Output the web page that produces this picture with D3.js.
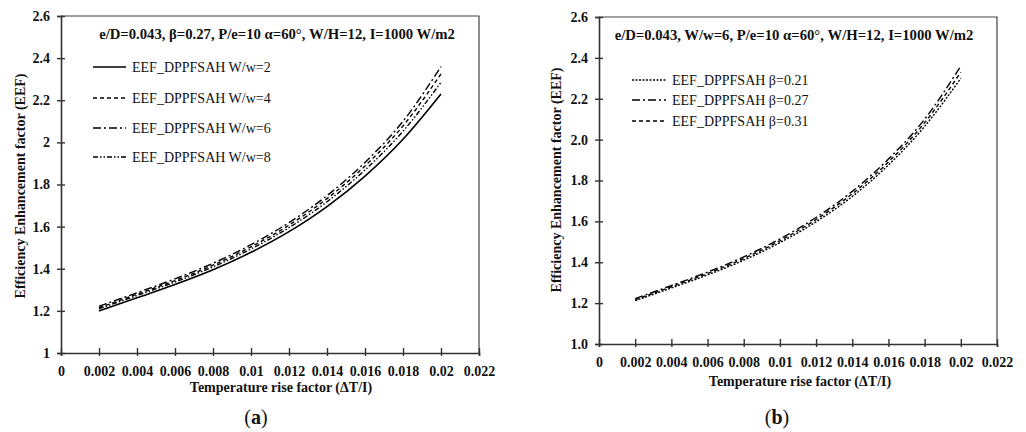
<!DOCTYPE html>
<html>
<head>
<meta charset="utf-8">
<script src="https://cdn.jsdelivr.net/npm/d3@7"></script>
<style>
  html, body { margin: 0; padding: 0; background: #fff; }
  svg { display: block; }
  text { font-family: "Liberation Serif", "Times New Roman", serif; fill: #111; }
</style>
</head>
<body>
<svg id="chart" width="1026" height="432"></svg>
<script>
// ---------- data ----------
const xValues = [0.002, 0.004, 0.006, 0.008, 0.010, 0.012, 0.014, 0.016, 0.018, 0.020];
const xTicks = [0, 0.002, 0.004, 0.006, 0.008, 0.01, 0.012, 0.014, 0.016, 0.018, 0.02, 0.022];
const xTickLabels = ["0", "0.002", "0.004", "0.006", "0.008", "0.01", "0.012", "0.014", "0.016", "0.018", "0.02", "0.022"];
const yTicks = [1.0, 1.2, 1.4, 1.6, 1.8, 2.0, 2.2, 2.4, 2.6];
const yTickLabelsA = ["1", "1.2", "1.4", "1.6", "1.8", "2", "2.2", "2.4", "2.6"];
const yTickLabelsB = ["1.0", "1.2", "1.4", "1.6", "1.8", "2.0", "2.2", "2.4", "2.6"];

// panel (a): W/w series
const seriesNamesA = ["EEF_DPPFSAH W/w=2", "EEF_DPPFSAH W/w=4", "EEF_DPPFSAH W/w=6", "EEF_DPPFSAH W/w=8"];
const eefWw2 = [1.200, 1.262, 1.325, 1.395, 1.478, 1.576, 1.695, 1.840, 2.015, 2.230];
const eefWw4 = [1.215, 1.279, 1.344, 1.417, 1.504, 1.607, 1.733, 1.888, 2.078, 2.325];
const eefWw6 = [1.222, 1.286, 1.352, 1.426, 1.514, 1.619, 1.747, 1.905, 2.100, 2.360];
const eefWw8 = [1.210, 1.273, 1.337, 1.409, 1.494, 1.595, 1.718, 1.869, 2.053, 2.285];

// panel (b): beta series
const seriesNamesB = ["EEF_DPPFSAH β=0.21", "EEF_DPPFSAH β=0.27", "EEF_DPPFSAH β=0.31"];
const eefB021 = [1.212, 1.274, 1.338, 1.410, 1.496, 1.598, 1.722, 1.876, 2.065, 2.300];
const eefB027 = [1.222, 1.286, 1.352, 1.426, 1.514, 1.619, 1.747, 1.905, 2.100, 2.360];
const eefB031 = [1.217, 1.280, 1.345, 1.418, 1.505, 1.609, 1.735, 1.891, 2.083, 2.330];

const titleA = "e/D=0.043, β=0.27, P/e=10 α=60°, W/H=12, I=1000 W/m2";
const titleB = "e/D=0.043, W/w=6, P/e=10 α=60°, W/H=12, I=1000 W/m2";
const xTitle = "Temperature rise factor (ΔT/I)";
const yTitle = "Efficiency Enhancement factor (EEF)";

// ---------- drawing ----------
const svg = d3.select("#chart");

function panel(cfg) {
  const g = svg.append("g");
  const x = d3.scaleLinear().domain([0, 0.022]).range([cfg.left, cfg.right]);
  const y = d3.scaleLinear().domain([1.0, 2.6]).range([cfg.bottom, cfg.top]);

  // frame (top & right)
  g.append("path")
    .attr("d", `M${cfg.left},${cfg.top}H${cfg.right}V${cfg.bottom}`)
    .attr("fill", "none").attr("stroke", "#444").attr("stroke-width", 1.2);

  // y axis
  const ya = g.append("g").attr("transform", `translate(${cfg.left},0)`)
    .call(d3.axisLeft(y).tickValues(yTicks).tickSize(4).tickPadding(7)
      .tickFormat((d, i) => cfg.yLabels[i]));
  ya.select(".domain").attr("stroke", "#333").attr("stroke-width", 1.6);
  ya.selectAll(".tick line").attr("x1", 4).attr("stroke", "#333").attr("stroke-width", 1.4);
  ya.selectAll(".tick text").attr("font-size", 14).attr("font-weight", "bold")
    .style("font-family", "'Liberation Serif', serif").attr("fill", "#111");

  // x axis
  const xa = g.append("g").attr("transform", `translate(0,${cfg.bottom})`)
    .call(d3.axisBottom(x).tickValues(xTicks).tickSize(3).tickPadding(10)
      .tickFormat((d, i) => xTickLabels[i]));
  xa.select(".domain").attr("stroke", "#333").attr("stroke-width", 1.6);
  xa.selectAll(".tick line").attr("y1", -5).attr("stroke", "#333").attr("stroke-width", 1.4);
  xa.selectAll(".tick text").attr("font-size", 14).attr("font-weight", "bold")
    .style("font-family", "'Liberation Serif', serif").attr("fill", "#111");

  // lines
  const line = d3.line().x((d, i) => x(xValues[i])).y(d => y(d)).curve(d3.curveMonotoneX);
  cfg.series.forEach(s => {
    g.append("path").datum(s.values)
      .attr("d", line)
      .attr("fill", "none").attr("stroke", "#000")
      .attr("stroke-width", s.width)
      .attr("stroke-dasharray", s.dash);
  });

  // legend
  cfg.series.forEach((s, i) => {
    const yy = cfg.legendY[i];
    g.append("line").attr("x1", cfg.legendX0).attr("x2", cfg.legendX1)
      .attr("y1", yy).attr("y2", yy)
      .attr("stroke", "#000").attr("stroke-width", s.width)
      .attr("stroke-dasharray", s.dash);
    g.append("text").attr("x", cfg.legendX1 + 6).attr("y", yy + 5)
      .attr("font-size", 14).text(s.name);
  });

  // title inside plot
  g.append("text").attr("x", cfg.titleX).attr("y", cfg.top + 23)
    .attr("text-anchor", "middle").attr("font-size", 14.7).attr("font-weight", "bold")
    .text(cfg.title);

  // axis titles
  g.append("text").attr("x", cfg.xTitleX).attr("y", cfg.xTitleY)
    .attr("text-anchor", "middle").attr("font-size", 14).attr("font-weight", "bold")
    .text(xTitle);
  g.append("text")
    .attr("transform", `translate(${cfg.yTitleX},${cfg.yTitleY}) rotate(-90)`)
    .attr("text-anchor", "middle").attr("font-size", 14).attr("font-weight", "bold")
    .text(yTitle);

  // panel letter
  const lt = g.append("text").attr("x", cfg.letterX).attr("y", 424)
    .attr("text-anchor", "middle").attr("font-size", 20);
  lt.append("tspan").text("(");
  lt.append("tspan").attr("font-weight", "bold").text(cfg.letter);
  lt.append("tspan").text(")");
}

panel({
  left: 61, right: 479, top: 16, bottom: 353,
  yLabels: yTickLabelsA,
  series: [
    { name: seriesNamesA[0], values: eefWw2, width: 1.6, dash: null },
    { name: seriesNamesA[1], values: eefWw4, width: 1.4, dash: "4,3" },
    { name: seriesNamesA[2], values: eefWw6, width: 1.4, dash: "8,3,2,3" },
    { name: seriesNamesA[3], values: eefWw8, width: 1.4, dash: "5,2,1.5,2,1.5,2" }
  ],
  legendX0: 93, legendX1: 126, legendY: [67, 98, 128, 157],
  title: titleA, titleX: 277,
  xTitleX: 281, xTitleY: 392,
  yTitleX: 25, yTitleY: 186,
  letter: "a", letterX: 256
});

panel({
  left: 599, right: 997, top: 17, bottom: 344,
  yLabels: yTickLabelsB,
  series: [
    { name: seriesNamesB[0], values: eefB021, width: 1.4, dash: "2,1.5" },
    { name: seriesNamesB[1], values: eefB027, width: 1.4, dash: "8,3,2,3" },
    { name: seriesNamesB[2], values: eefB031, width: 1.4, dash: "4,3" }
  ],
  legendX0: 632, legendX1: 666, legendY: [80, 100, 121],
  title: titleB, titleX: 794,
  xTitleX: 800, xTitleY: 386,
  yTitleX: 561, yTitleY: 180,
  letter: "b", letterX: 777
});
</script>
</body>
</html>
